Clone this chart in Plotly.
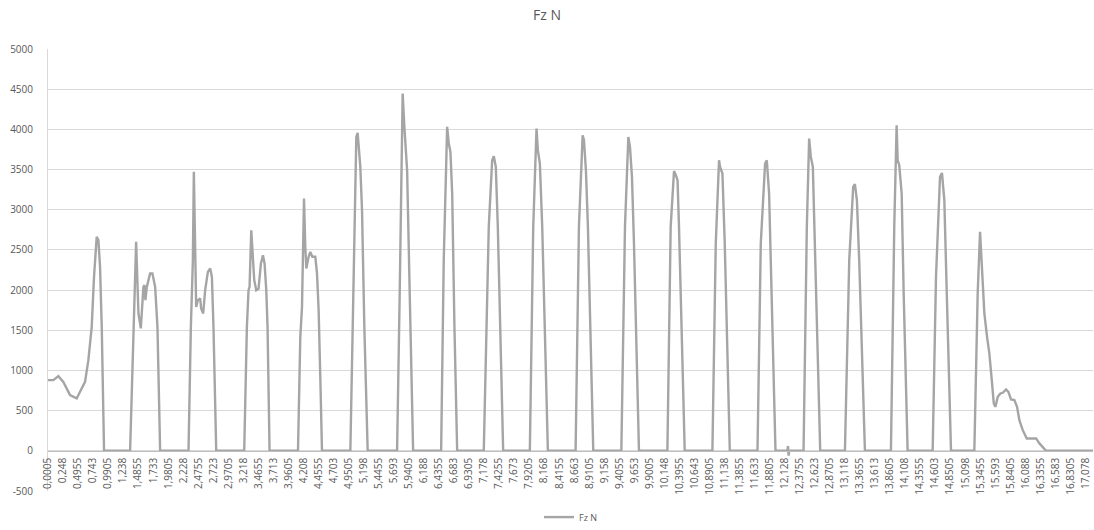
import plotly.graph_objects as go

# category labels shown on the x axis (Excel style, comma decimals)
tick_labels = ["0,0005", "0,248", "0,4955", "0,743", "0,9905", "1,238", "1,4855", "1,733", "1,9805", "2,228",
               "2,4755", "2,723", "2,9705", "3,218", "3,4655", "3,713", "3,9605", "4,208", "4,4555", "4,703",
               "4,9505", "5,198", "5,4455", "5,693", "5,9405", "6,188", "6,4355", "6,683", "6,9305", "7,178",
               "7,4255", "7,673", "7,9205", "8,168", "8,4155", "8,663", "8,9105", "9,158", "9,4055", "9,653",
               "9,9005", "10,148", "10,3955", "10,643", "10,8905", "11,138", "11,3855", "11,633", "11,8805", "12,128",
               "12,3755", "12,623", "12,8705", "13,118", "13,3655", "13,613", "13,8605", "14,108", "14,3555", "14,603",
               "14,8505", "15,098", "15,3455", "15,593", "15,8405", "16,088", "16,3355", "16,583", "16,8305", "17,078"]

# time (s) of each vertex
time_s = [0.0005, 0.088, 0.171, 0.253, 0.363, 0.473, 0.528, 0.610, 0.665, 0.720, 0.758, 0.802, 0.830, 0.857, 0.885, 0.923,
          1.352, 1.407, 1.451, 1.489, 1.528, 1.571, 1.588, 1.604, 1.627, 1.681, 1.719, 1.764, 1.802, 1.846,
          2.313, 2.352, 2.385, 2.401, 2.439, 2.467, 2.505, 2.521, 2.555, 2.587, 2.632, 2.670, 2.698, 2.724, 2.769,
          3.230, 3.274, 3.301, 3.318, 3.346, 3.374, 3.395, 3.428, 3.466, 3.505, 3.538, 3.565, 3.593, 3.614, 3.647,
          4.115, 4.153, 4.181, 4.197, 4.214, 4.235, 4.252, 4.290, 4.318, 4.351, 4.400, 4.428, 4.455, 4.482, 4.510,
          4.977, 5.031, 5.075, 5.097, 5.120, 5.141, 5.169, 5.207, 5.262,
          5.746, 5.789, 5.838, 5.866, 5.911, 5.954, 6.010,
          6.471, 6.514, 6.570, 6.597, 6.624, 6.653, 6.690, 6.735,
          7.173, 7.255, 7.311, 7.338, 7.371, 7.404, 7.492,
          7.931, 7.987, 8.041, 8.063, 8.096, 8.135, 8.228,
          8.684, 8.739, 8.800, 8.822, 8.854, 8.887, 8.975,
          9.437, 9.497, 9.552, 9.579, 9.612, 9.645, 9.727,
          10.195, 10.249, 10.304, 10.330, 10.362, 10.386, 10.480,
          10.936, 10.991, 11.045, 11.062, 11.101, 11.139, 11.222,
          11.678, 11.732, 11.803, 11.831, 11.869, 11.897, 11.974,
          12.170, 12.180, 12.190, 12.200,
          12.436, 12.490, 12.528, 12.556, 12.589, 12.622, 12.710,
          13.117, 13.188, 13.253, 13.281, 13.314, 13.352, 13.446,
          13.874, 13.929, 13.968, 13.985, 14.011, 14.051, 14.084, 14.149,
          14.561, 14.616, 14.682, 14.714, 14.753, 14.786, 14.863,
          15.247, 15.302, 15.341, 15.368, 15.412, 15.456, 15.494, 15.534, 15.567, 15.593, 15.633, 15.676, 15.715,
          15.769, 15.807, 15.851, 15.906, 15.950, 15.988, 16.044, 16.110, 16.181, 16.264, 16.318, 16.428,
          17.200]

# Fz (N) at each vertex
fz_n = [880, 880, 929, 858, 693, 652, 734, 858, 1128, 1543, 2165, 2662, 2621, 2289, 1543, 0,
        0, 1460, 2600, 1709, 1523, 2040, 2061, 1875, 2040, 2207, 2207, 2040, 1543, 0,
        0, 1543, 2372, 3471, 1791, 1875, 1896, 1771, 1709, 1999, 2227, 2269, 2165, 1543, 0,
        0, 1543, 1999, 2040, 2745, 2289, 2123, 1999, 2020, 2331, 2434, 2331, 1999, 1543, 0,
        0, 1418, 1791, 2372, 3140, 2538, 2269, 2414, 2476, 2414, 2414, 2207, 1750, 920, 0,
        0, 1958, 3906, 3956, 3762, 3533, 2994, 1543, 0,
        0, 1958, 4446, 4031, 3492, 1958, 0,
        0, 2372, 4031, 3824, 3720, 3202, 1543, 0,
        0, 2787, 3616, 3666, 3533, 2787, 0,
        0, 2787, 4010, 3741, 3575, 2787, 0,
        0, 2787, 3927, 3865, 3492, 2787, 0,
        0, 2787, 3906, 3782, 3409, 2580, 0,
        0, 2787, 3480, 3440, 3368, 2787, 0,
        0, 2580, 3616, 3533, 3451, 2580, 0,
        0, 2580, 3575, 3616, 3202, 2372, 0,
        0, 60, -60, 0,
        0, 2787, 3886, 3657, 3533, 2580, 0,
        0, 2372, 3284, 3318, 3119, 2372, 0,
        0, 2787, 4052, 3616, 3554, 3202, 1958, 0,
        0, 2165, 3409, 3458, 3119, 2165, 0,
        0, 1958, 2725, 2372, 1709, 1418, 1212, 880, 590, 547, 672, 714, 722,
        764, 734, 639, 631, 547, 382, 257, 154, 154, 154, 92, 0,
        0]

y_ticks = [-500, 0, 500, 1000, 1500, 2000, 2500, 3000, 3500, 4000, 4500, 5000]

tick_vals = [float(s.replace(",", ".")) for s in tick_labels]
y_min, y_max = y_ticks[0], y_ticks[-1]

FONT = "Open Sans, DejaVu Sans, sans-serif"
TXT = "#595959"

fig = go.Figure()
fig.add_trace(go.Scatter(
    x=time_s, y=fz_n, mode="lines", name="Fz N",
    line=dict(color="#A5A5A5", width=2.4),
))

fig.update_layout(
    width=1094, height=530,
    margin=dict(l=48, r=1, t=49, b=39, autoexpand=False),
    paper_bgcolor="white", plot_bgcolor="white",
    font=dict(family=FONT, color=TXT, size=10),
    title=dict(text="Fz N", x=0.5, xanchor="center", y=0.972, yanchor="middle",
               font=dict(size=14, color=TXT, family=FONT), automargin=False),
    showlegend=True,
    legend=dict(orientation="h", x=0.5, xanchor="center", y=-0.059, yanchor="middle",
                font=dict(size=9, color=TXT), itemwidth=30),
    xaxis=dict(
        range=[time_s[0], time_s[-1]],
        tickmode="array", tickvals=tick_vals, ticktext=tick_labels,
        tickangle=-90, tickfont=dict(size=10, color=TXT),
        showgrid=False, zeroline=False,
        showline=True, linecolor="#BFBFBF", linewidth=1,
        anchor="free", position=(0 - y_min) / (y_max - y_min),
        ticks="", ticklabelstandoff=2, automargin=False,
    ),
    yaxis=dict(
        range=[y_min, y_max],
        tickmode="array", tickvals=y_ticks, ticktext=[str(v) for v in y_ticks],
        tickfont=dict(size=10, color=TXT),
        showgrid=True, gridcolor="#D9D9D9", gridwidth=1,
        zeroline=False, showline=True, linecolor="#D9D9D9", linewidth=1,
        ticks="", ticklabelstandoff=12, automargin=False,
    ),
)

fig.write_html("out.html",
               config={"displayModeBar": False},
               post_script="document.body.style.margin='0';document.body.style.overflow='hidden';")
